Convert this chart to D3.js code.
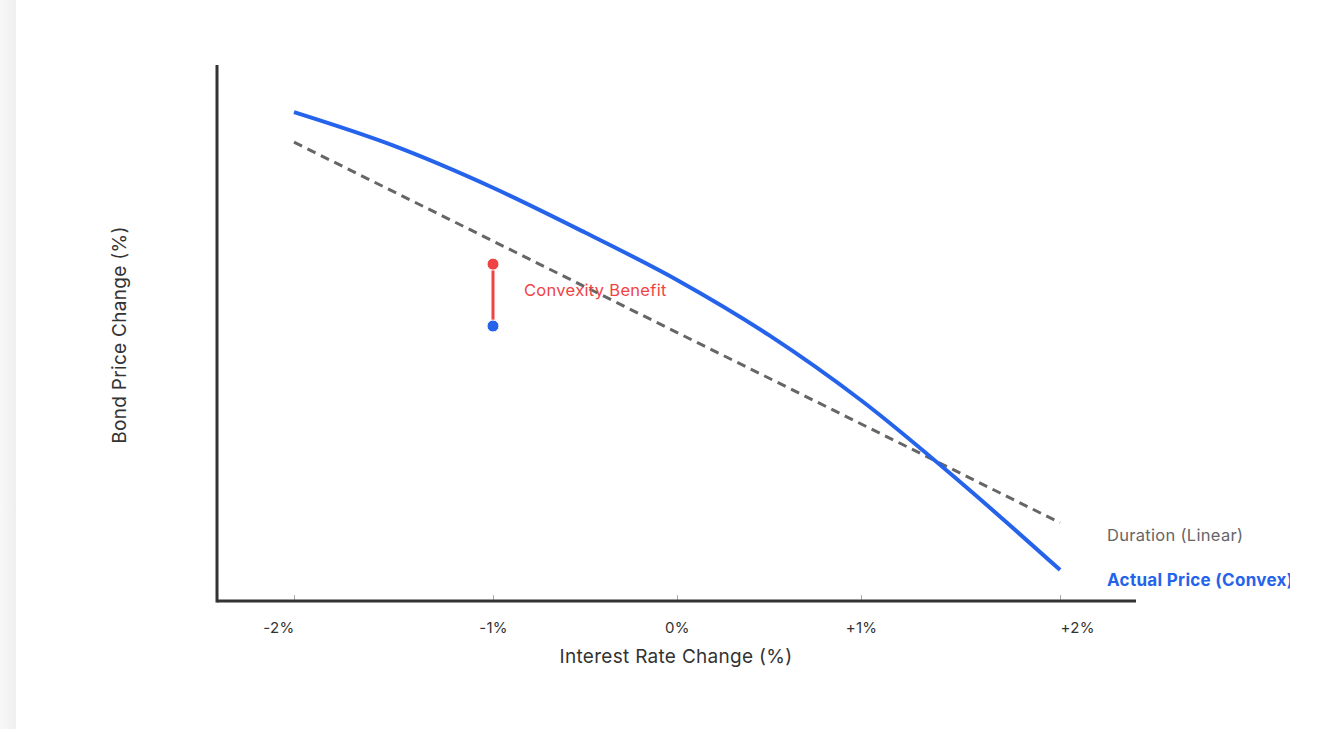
<!DOCTYPE html>
<html>
<head>
<meta charset="utf-8">
<script src="https://cdn.jsdelivr.net/npm/d3@7/dist/d3.min.js"></script>
<style>
  html, body { margin: 0; padding: 0; background: #ffffff; width: 1331px; height: 729px; overflow: hidden; }
  #shade { position: absolute; left: 0; top: 0; width: 16px; height: 729px; background: linear-gradient(to right, #f8f8f8, #efefef); }
  #card { position: absolute; left: 16px; top: 0; width: 1274px; height: 729px; overflow: hidden; background: #fff; }
  svg text { font-family: Inter, "Noto Sans", "DejaVu Sans", sans-serif; letter-spacing: 0.3px; }
</style>
</head>
<body>
<div id="shade"></div>
<div id="card"></div>
<script>
// ---- data ----
const rateTicks = [-2, -1, 0, 1, 2];
const rateTickLabels = ["-2%", "-1%", "0%", "+1%", "+2%"];
const curveRates = [-2, -1.5, -1, -0.5, 0, 0.5, 1, 1.5, 2];
const actualPrice = [8.24, 6.99, 5.42, 3.75, 1.98, -0.08, -2.51, -5.57, -8.84];
const durationRates = [-2, 2];
const durationPrice = [7.12, -7.08];
const benefitRate = -1;
const benefitTop = 2.57;
const benefitBottom = 0.26;

// ---- layout ----
const W = 1274, H = 729, offX = 16;
const svg = d3.select("#card").append("svg").attr("width", W).attr("height", H);
const g = svg.append("g").attr("transform", `translate(${-offX},0)`);

const x = d3.scaleLinear().domain(rateTicks).range([294, 493, 677, 861, 1060]);
const y = d3.scaleLinear().domain([-10, 10]).range([601, 65]);

// x axis ticks
const xAxis = d3.axisBottom(x)
  .tickValues(rateTicks)
  .tickFormat((d, i) => rateTickLabels[i])
  .tickSizeInner(-6)
  .tickSizeOuter(0);
const ax = g.append("g").attr("transform", `translate(0,${y(-10)})`).call(xAxis);
ax.select(".domain").remove();
ax.selectAll(".tick line").attr("stroke", "#aaaaaa").attr("stroke-width", 1);
ax.selectAll(".tick text")
  .attr("y", 32).attr("dy", 0)
  .attr("fill", "#333")
  .style("font-size", "15px")
  .style("font-family", "Inter, sans-serif")
  .attr("text-anchor", (d, i) => i === 0 ? "end" : (i === rateTicks.length - 1 ? "start" : "middle"));

// axis lines
g.append("line").attr("x1", 217).attr("x2", 1136).attr("y1", y(-10)).attr("y2", y(-10))
  .attr("stroke", "#333").attr("stroke-width", 3);
g.append("line").attr("x1", 217).attr("x2", 217).attr("y1", y(10)).attr("y2", y(-10) + 1.5)
  .attr("stroke", "#333").attr("stroke-width", 3);

// duration line
const durData = durationRates.map((r, i) => [r, durationPrice[i]]);
g.append("path").datum(durData)
  .attr("d", d3.line().x(d => x(d[0])).y(d => y(d[1])))
  .attr("fill", "none").attr("stroke", "#666").attr("stroke-width", 3)
  .attr("stroke-dasharray", "9,6");

// actual price curve
const actData = curveRates.map((r, i) => [r, actualPrice[i]]);
g.append("path").datum(actData)
  .attr("d", d3.line().x(d => x(d[0])).y(d => y(d[1])).curve(d3.curveMonotoneX))
  .attr("fill", "none").attr("stroke", "#2563eb").attr("stroke-width", 4);

// convexity benefit marker
g.append("line")
  .attr("x1", x(benefitRate)).attr("x2", x(benefitRate))
  .attr("y1", y(benefitTop)).attr("y2", y(benefitBottom))
  .attr("stroke", "#ef4444").attr("stroke-width", 3);
g.append("circle").attr("cx", x(benefitRate)).attr("cy", y(benefitTop)).attr("r", 6)
  .attr("fill", "#ef4444").attr("stroke", "#fff").attr("stroke-width", 1);
g.append("circle").attr("cx", x(benefitRate)).attr("cy", y(benefitBottom)).attr("r", 6)
  .attr("fill", "#2563eb").attr("stroke", "#fff").attr("stroke-width", 1);
g.append("text").attr("x", x(benefitRate) + 31).attr("y", 296)
  .attr("fill", "#ef4444").style("font-size", "16.5px").text("Convexity Benefit");

// legend labels
g.append("text").attr("x", 1107).attr("y", 541)
  .attr("fill", "#666").style("font-size", "16.5px").text("Duration (Linear)");
g.append("text").attr("x", 1107).attr("y", 586)
  .attr("fill", "#2563eb").style("font-size", "17px").style("font-weight", "bold").text("Actual Price (Convex)");

// axis titles
g.append("text").attr("x", 676).attr("y", 663).attr("text-anchor", "middle")
  .attr("fill", "#333").style("font-size", "19px").text("Interest Rate Change (%)");
g.append("text").attr("transform", "translate(126,335) rotate(-90)").attr("text-anchor", "middle")
  .attr("fill", "#333").style("font-size", "19px").text("Bond Price Change (%)");
</script>
</body>
</html>
